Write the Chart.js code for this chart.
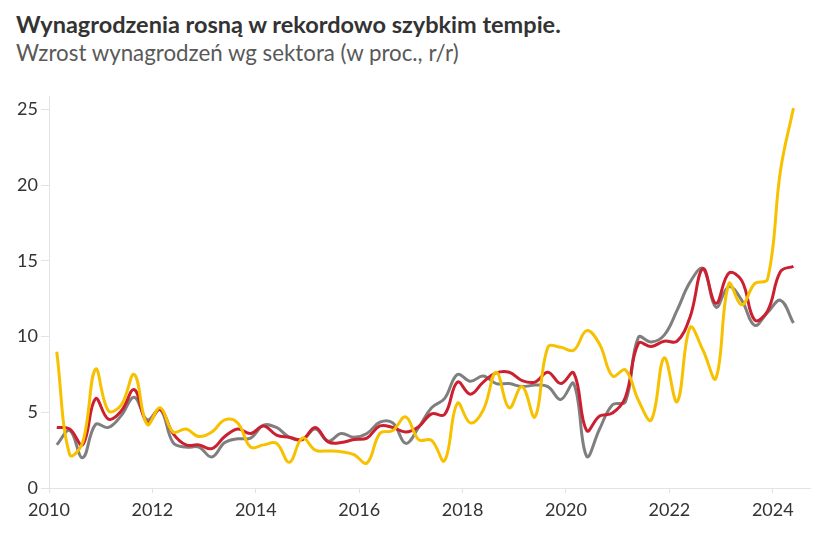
<!DOCTYPE html>
<html lang="pl">
<head>
<meta charset="utf-8">
<script src="https://cdn.jsdelivr.net/npm/chart.js@4.4.1/dist/chart.umd.min.js"></script>
<style>
  html, body { margin: 0; padding: 0; background: #fff; }
  #wrap { position: relative; width: 828px; height: 535px; }
  #title { position: absolute; left: 16px; top: 10px; font: bold 23.5px Lato, sans-serif; color: #333; white-space: nowrap; }
  #subtitle { position: absolute; left: 16px; top: 39px; font: 22.3px Lato, sans-serif; color: #595959; white-space: nowrap; }
  canvas { position: absolute; left: 0; top: 0; }
</style>
</head>
<body>
<div id="wrap">
  <div id="title">Wynagrodzenia rosną w rekordowo szybkim tempie.</div>
  <div id="subtitle">Wzrost wynagrodzeń wg sektora (w proc., r/r)</div>
  <canvas id="chart" width="828" height="535"></canvas>
</div>
<script>
// kwartały od I kw. 2010 do II kw. 2024
const firstYear = 2010;
const quarterCount = 58;

// tick labels
const yearTicks = [2010, 2012, 2014, 2016, 2018, 2020, 2022, 2024];
const valueTicks = [0, 5, 10, 15, 20, 25];

// serie
const redSeries = [
  4.0, 3.9, 2.85, 5.9, 4.55, 5.1, 6.5, 4.3, 5.2, 3.6,
  2.85, 2.85, 2.6, 3.4, 3.9, 3.6, 4.1, 3.5, 3.35, 3.2,
  4.0, 3.05, 3.0, 3.2, 3.3, 4.1, 4.0, 3.7, 4.05, 4.9,
  4.85, 7.0, 6.2, 7.0, 7.6, 7.65, 7.1, 7.0, 7.65, 6.9,
  7.6, 3.8, 4.75, 4.95, 6.0, 9.55, 9.35, 9.7, 9.7, 11.3,
  14.5, 12.2, 14.2, 13.7, 11.1, 11.7, 14.3, 14.65
];
const graySeries = [
  2.85, 3.8, 2.0, 4.2, 4.0, 4.8, 6.0, 4.5, 5.2, 3.0,
  2.7, 2.7, 2.05, 3.0, 3.25, 3.3, 4.15, 4.0, 3.35, 3.2,
  3.9, 3.1, 3.6, 3.35, 3.6, 4.35, 4.3, 2.95, 4.0, 5.3,
  5.9, 7.5, 7.05, 7.4, 6.9, 6.9, 6.7, 6.8, 6.7, 5.85,
  6.9, 2.1, 3.9, 5.5, 5.7, 9.95, 9.65, 10.1, 11.75, 13.6,
  14.5, 11.95, 13.3, 12.4, 10.75, 11.6, 12.4, 10.9
];
const yellowSeries = [
  9.0, 2.2, 3.0, 7.85, 5.1, 5.5, 7.5, 4.2, 5.3, 3.7,
  3.9, 3.4, 3.7, 4.5, 4.3, 2.7, 2.85, 2.95, 1.7, 3.3,
  2.5, 2.45, 2.4, 2.2, 1.65, 3.6, 3.8, 4.7, 3.2, 3.15,
  1.8, 5.6, 4.3, 5.15, 7.65, 5.3, 6.7, 4.7, 9.3, 9.3,
  9.1, 10.4, 9.5, 7.4, 7.8, 5.8, 4.5, 8.6, 5.7, 10.6,
  9.1, 7.25, 13.5, 12.1, 13.5, 13.8, 21.0, 25.1
];

// pozycja kwartału na osi lat
const quarterX = [];
for (let i = 0; i < quarterCount; i++) quarterX.push(firstYear + 0.15 + i / 4);

function toPoints(values) {
  return values.map((v, i) => ({ x: quarterX[i], y: v }));
}

function line(values, color) {
  return {
    data: toPoints(values),
    borderColor: color,
    borderWidth: 3,
    pointRadius: 0,
    tension: 0.4,
    fill: false
  };
}

const axisColor = "#e3e3e3";
const tickFont = { family: "Lato", size: 18 };

new Chart(document.getElementById("chart"), {
  type: "line",
  data: {
    datasets: [
      line(yellowSeries, "#f7c100"),
      line(redSeries, "#cc1f2f"),
      line(graySeries, "#7f7f7f")
    ]
  },
  options: {
    responsive: false,
    animation: false,
    layout: { padding: { top: 96, right: 18, left: 0, bottom: 0 } },
    plugins: {
      legend: { display: false },
      tooltip: { enabled: false }
    },
    scales: {
      x: {
        type: "linear",
        min: 2010,
        max: 2024.72,
        afterBuildTicks: (s) => { s.ticks = yearTicks.map(v => ({ value: v })); },
        afterFit: (s) => { s.height = 47; },
        border: { color: axisColor },
        grid: { drawOnChartArea: false, color: axisColor, tickLength: 5 },
        ticks: { color: "#333", font: tickFont, padding: 6, maxRotation: 0, callback: v => String(v) }
      },
      y: {
        min: 0,
        max: 25.9,
        afterBuildTicks: (s) => { s.ticks = valueTicks.map(v => ({ value: v })); },
        afterFit: (s) => { s.width = 49; },
        border: { color: axisColor },
        grid: { drawOnChartArea: false, color: axisColor, tickLength: 8 },
        ticks: { color: "#333", font: tickFont, padding: 3 }
      }
    }
  }
});
</script>
</body>
</html>
